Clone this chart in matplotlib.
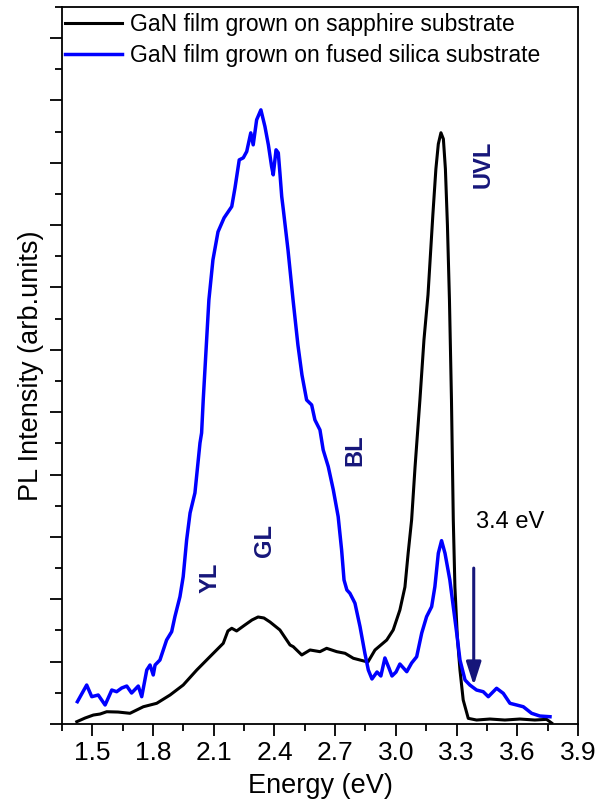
import numpy as np
import matplotlib.pyplot as plt
from matplotlib.ticker import MultipleLocator, NullFormatter

plt.rcParams['font.family'] = ['Liberation Sans', 'DejaVu Sans']

# GaN on sapphire (black)
e_sapphire = [1.423, 1.464, 1.505, 1.538, 1.571, 1.627, 1.686, 1.752, 1.818, 1.884,
              1.949, 2.016, 2.081, 2.147, 2.170, 2.189, 2.213, 2.254, 2.289, 2.319,
              2.348, 2.378, 2.427, 2.477, 2.493, 2.535, 2.576, 2.625, 2.658, 2.708,
              2.749, 2.790, 2.823, 2.862, 2.897, 2.955, 2.987, 3.020, 3.045, 3.061,
              3.078, 3.095, 3.119, 3.139, 3.159, 3.183, 3.198, 3.210, 3.223, 3.235,
              3.245, 3.255, 3.265, 3.275, 3.284, 3.292, 3.304, 3.317, 3.333, 3.358,
              3.399, 3.465, 3.539, 3.613, 3.687, 3.745, 3.770]
i_sapphire = [0.037, 0.096, 0.144, 0.160, 0.197, 0.192, 0.172, 0.277, 0.332, 0.465,
              0.625, 0.866, 1.079, 1.294, 1.492, 1.535, 1.492, 1.588, 1.668, 1.716,
              1.700, 1.636, 1.508, 1.267, 1.240, 1.107, 1.187, 1.160, 1.214, 1.160,
              1.134, 1.054, 1.026, 0.994, 1.187, 1.347, 1.508, 1.828, 2.197, 2.743,
              3.272, 4.122, 5.196, 6.159, 6.881, 8.164, 8.900, 9.300, 9.480, 9.380,
              8.900, 8.000, 6.800, 5.196, 3.272, 2.197, 1.395, 0.866, 0.385, 0.091,
              0.064, 0.080, 0.064, 0.080, 0.064, 0.075, 0.016]

# GaN on fused silica (blue)
e_silica = [1.426, 1.472, 1.497, 1.529, 1.563, 1.596, 1.620, 1.645, 1.670, 1.694,
            1.727, 1.744, 1.769, 1.785, 1.801, 1.810, 1.834, 1.867, 1.892, 1.908,
            1.933, 1.949, 1.966, 1.983, 2.007, 2.032, 2.040, 2.048, 2.062, 2.076,
            2.096, 2.121, 2.151, 2.189, 2.205, 2.226, 2.246, 2.263, 2.283, 2.295,
            2.312, 2.333, 2.353, 2.370, 2.386, 2.394, 2.408, 2.419, 2.427, 2.436,
            2.444, 2.467, 2.492, 2.516, 2.536, 2.559, 2.584, 2.600, 2.625, 2.641,
            2.666, 2.691, 2.715, 2.732, 2.744, 2.758, 2.773, 2.790, 2.798, 2.823,
            2.847, 2.864, 2.882, 2.907, 2.926, 2.946, 2.966, 2.981, 3.001, 3.020,
            3.054, 3.078, 3.103, 3.128, 3.152, 3.177, 3.193, 3.210, 3.226, 3.243,
            3.267, 3.284, 3.301, 3.317, 3.342, 3.366, 3.399, 3.432, 3.457, 3.498,
            3.531, 3.564, 3.597, 3.630, 3.671, 3.712, 3.762]
i_silica = [0.358, 0.625, 0.438, 0.465, 0.305, 0.545, 0.518, 0.577, 0.609, 0.497,
            0.609, 0.438, 0.866, 0.946, 0.786, 0.946, 1.026, 1.347, 1.480, 1.721,
            2.042, 2.362, 2.951, 3.384, 3.705, 4.507, 4.667, 5.196, 5.998, 6.800,
            7.442, 7.891, 8.115, 8.297, 8.596, 9.045, 9.078, 9.179, 9.478, 9.286,
            9.687, 9.847, 9.580, 9.286, 8.938, 8.805, 9.206, 9.158, 8.837, 8.457,
            8.244, 7.602, 6.800, 6.078, 5.597, 5.196, 5.116, 4.876, 4.715, 4.394,
            4.127, 3.753, 3.325, 2.791, 2.309, 2.149, 2.096, 1.989, 1.936, 1.561,
            1.134, 0.866, 0.722, 0.834, 0.770, 1.059, 0.898, 0.770, 0.834, 0.962,
            0.839, 0.978, 1.079, 1.459, 1.721, 1.881, 2.202, 2.738, 2.940, 2.738,
            2.309, 1.881, 1.455, 1.026, 0.706, 0.625, 0.545, 0.518, 0.438, 0.573,
            0.492, 0.332, 0.305, 0.277, 0.172, 0.128, 0.117]

# band labels
band_names = ['YL', 'GL', 'BL', 'UVL']
band_e = [2.081, 2.353, 2.798, 3.431]
band_i = [2.34, 2.95, 4.39, 8.97]

navy = '#16167a'

fig = plt.figure(figsize=(6.02, 8.05), dpi=100)
ax = fig.add_axes([0.103, 0.1006, 0.857, 0.891])

ax.plot(e_sapphire, i_sapphire, color='black', lw=2.2,
        label='GaN film grown on sapphire substrate')
ax.plot(e_silica, i_silica, color='blue', lw=2.5,
        label='GaN film grown on fused silica substrate')

for name, x, y in zip(band_names, band_e, band_i):
    ax.text(x, y, name, rotation=90, ha='center', va='center',
            fontsize=17, fontweight='bold', color=navy)

ax.text(3.565, 3.24, '3.4 eV', ha='center', va='center', fontsize=17)
ax.annotate('', xy=(3.385, 0.62), xytext=(3.385, 2.5),
            arrowprops=dict(arrowstyle='-|>,head_length=1.4,head_width=0.45',
                            color=navy, lw=2.2, shrinkA=0, shrinkB=0))

ax.set_xlim(1.35, 3.9)
ax.set_ylim(0, 11.5)
ax.xaxis.set_major_locator(MultipleLocator(0.3))
ax.xaxis.set_minor_locator(MultipleLocator(0.15))
ax.yaxis.set_major_locator(MultipleLocator(1))
ax.yaxis.set_minor_locator(MultipleLocator(0.5))
ax.yaxis.set_major_formatter(NullFormatter())
ax.xaxis.set_major_formatter(plt.FuncFormatter(lambda v, p: f'{v:.1f}'))
ax.tick_params(which='major', direction='out', length=8.5, width=1.3, labelsize=19)
ax.tick_params(which='minor', direction='out', length=5, width=1.3)
ax.tick_params(top=False, right=False, which='both')
for s in ax.spines.values():
    s.set_linewidth(1.3)

ax.set_xlabel('Energy (eV)', fontsize=19.5, labelpad=6)
ax.set_ylabel('PL Intensity (arb.units)', fontsize=19.5, labelpad=1)

ax.legend(loc='upper left', bbox_to_anchor=(0.006, 0.991), frameon=False,
          fontsize=16.5, handlelength=2.5, handletextpad=0.35,
          labelspacing=0.33, borderpad=0, borderaxespad=0)

fig.savefig('out.png', dpi=100)
